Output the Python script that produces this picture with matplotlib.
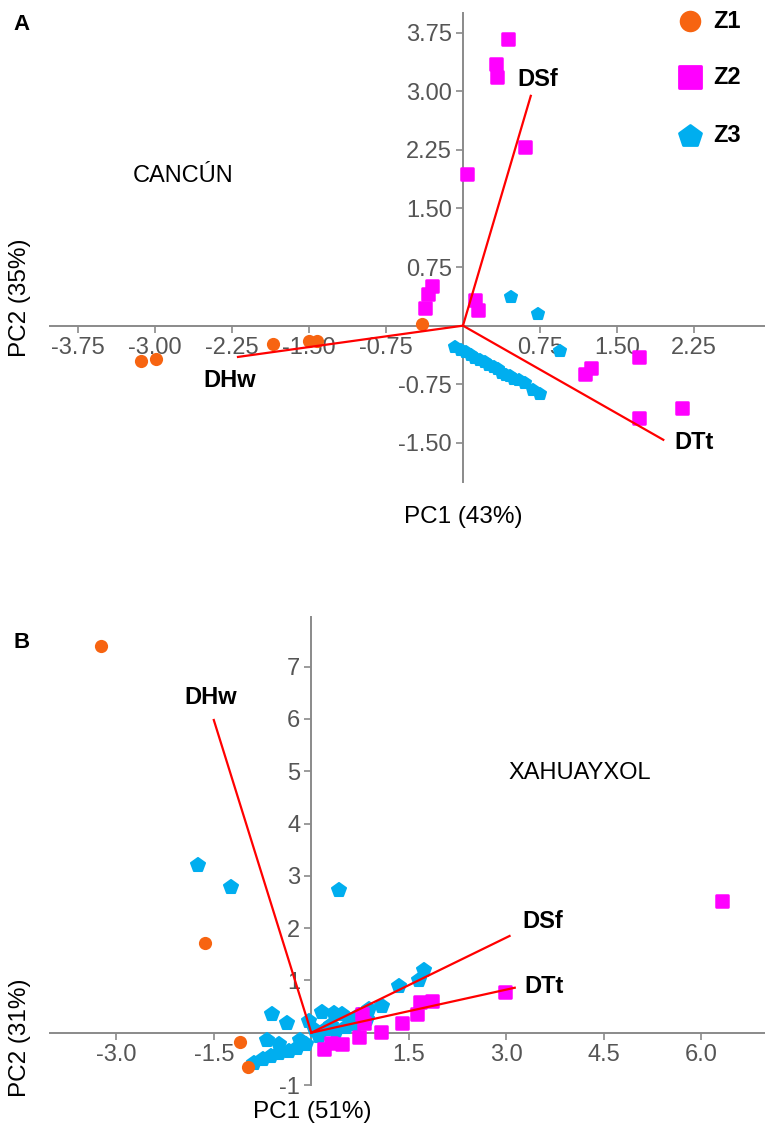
# PCA biplots, Cancun (A) and Xahuayxol (B)
import matplotlib
matplotlib.use("Agg")
import matplotlib.pyplot as plt
from matplotlib.markers import MarkerStyle

plt.rcParams['font.family'] = ['Liberation Sans', 'DejaVu Sans']

W, H = 765, 1135

# ---- panel A data (CANCUN) ----
a_z1_x = [-3.13, -2.99, -1.85, -1.50, -1.42, -0.40]
a_z1_y = [-0.45, -0.43, -0.23, -0.20, -0.20, 0.02]
a_z2_x = [0.44, 0.32, 0.33, 0.60, 0.04, -0.30, -0.34, -0.37, 0.12, 0.15, 1.71, 1.19, 1.25, 1.71, 2.13]
a_z2_y = [3.67, 3.35, 3.18, 2.28, 1.94, 0.51, 0.41, 0.22, 0.33, 0.20, -0.40, -0.62, -0.54, -1.18, -1.05]
a_z3_x = [0.47, 0.73, 0.94, -0.08, -0.02, 0.03, 0.08, 0.12, 0.17, 0.21, 0.25, 0.30,
          0.34, 0.38, 0.42, 0.46, 0.50, 0.55, 0.60, 0.68, 0.75]
a_z3_y = [0.37, 0.15, -0.33, -0.27, -0.31, -0.34, -0.38, -0.41, -0.44, -0.47, -0.50, -0.53,
          -0.56, -0.60, -0.63, -0.65, -0.68, -0.70, -0.73, -0.82, -0.87]
a_vars = ['DSf', 'DTt', 'DHw']
a_load_x = [0.66, 1.95, -2.19]
a_load_y = [2.94, -1.46, -0.40]
a_lab_x = [0.53, 2.06, -2.53]
a_lab_y = [3.15, -1.50, -0.70]
a_xticks = [-3.75, -3.00, -2.25, -1.50, -0.75, 0.75, 1.50, 2.25]
a_yticks = [-1.50, -0.75, 0.75, 1.50, 2.25, 3.00, 3.75]

# ---- panel B data (XAHUAYXOL) ----
b_z1_x = [-3.23, -1.63, -1.09, -0.98]
b_z1_y = [7.40, 1.71, -0.17, -0.65]
b_z2_x = [6.32, 2.98, 1.68, 1.86, 1.63, 1.40, 1.07, 0.78, 0.74, 0.48, 0.20, 0.31, 0.81]
b_z2_y = [2.52, 0.77, 0.58, 0.61, 0.36, 0.19, 0.02, 0.36, -0.09, -0.21, -0.31, -0.19, 0.19]
b_z3_x = [-1.74, -1.23, 0.43, -0.60, -0.37, -0.03, 0.17, 0.35, 0.48, 0.89, 1.09, 1.35, 1.66, 1.74,
          -0.68, -0.49, -0.18, -0.88, -0.75, -0.62, -0.49, -0.34, -0.22, -0.08,
          0.12, 0.23, 0.38, 0.54, 0.69, 0.85, 0.74, 0.05, 0.30, 0.60]
b_z3_y = [3.21, 2.79, 2.73, 0.35, 0.19, 0.23, 0.40, 0.37, 0.35, 0.46, 0.52, 0.90, 1.00, 1.19,
          -0.13, -0.21, -0.13, -0.58, -0.50, -0.44, -0.38, -0.35, -0.29, -0.21,
          -0.06, 0.08, 0.04, 0.10, 0.17, 0.27, 0.33, 0.05, 0.15, 0.25]
b_vars = ['DHw', 'DSf', 'DTt']
b_load_x = [-1.50, 3.05, 3.13]
b_load_y = [5.98, 1.85, 0.86]
b_lab_x = [-1.95, 3.25, 3.28]
b_lab_y = [6.42, 2.12, 0.88]
b_xticks = [-3.0, -1.5, 1.5, 3.0, 4.5, 6.0]
b_yticks = [-1, 1, 2, 3, 4, 5, 6, 7]

c_z1 = '#F76411'
c_z2 = '#FF00FF'
c_z3 = '#00AEEF'
axis_c = '#8a8a8a'


def sq():
    return MarkerStyle('s', joinstyle='round')


def pent():
    return MarkerStyle('p', joinstyle='round')


def setup(ax, xlim, ylim, xt, yt, fmt):
    for s in ['top', 'right']:
        ax.spines[s].set_visible(False)
    for s in ['left', 'bottom']:
        ax.spines[s].set_position(('data', 0))
        ax.spines[s].set_color(axis_c)
        ax.spines[s].set_linewidth(1.4)
    ax.set_xlim(xlim)
    ax.set_ylim(ylim)
    ax.set_xticks(xt)
    ax.set_yticks(yt)
    ax.set_xticklabels([fmt.format(v) for v in xt])
    ax.set_yticklabels([fmt.format(v) for v in yt])
    ax.tick_params(length=5, width=1.2, color=axis_c, labelcolor='#555555',
                   labelsize=17, pad=3)


def draw(ax, z1, z2, z3, lx, ly, names, tx, ty, pms):
    ax.plot(z3[0], z3[1], ls='none', marker=pent(), ms=pms, mfc=c_z3, mec=c_z3, mew=1.5, zorder=3)
    ax.plot(z2[0], z2[1], ls='none', marker=sq(), ms=8, mfc=c_z2, mec=c_z2, mew=1.8, zorder=3)
    ax.plot(z1[0], z1[1], ls='none', marker='o', ms=9.5, mfc=c_z1, mec=c_z1, mew=0, zorder=4)
    for x, y, n, a, b in zip(lx, ly, names, tx, ty):
        ax.plot([0, x], [0, y], color='#FF0000', lw=1.6, zorder=5)
        ax.text(a, b, n, fontsize=17, fontweight='bold', ha='left', va='center')


fig = plt.figure(figsize=(W / 100, H / 100), dpi=100)

# panel A
axA = fig.add_axes([50 / W, 1 - 482 / H, 715 / W, 469 / H])
setup(axA, (-4.02, 2.94), (-2.0, 4.0), a_xticks, a_yticks, '{:.2f}')
draw(axA, (a_z1_x, a_z1_y), (a_z2_x, a_z2_y), (a_z3_x, a_z3_y),
     a_load_x, a_load_y, a_vars, a_lab_x, a_lab_y, 9)
axA.text(-2.72, 1.91, 'CANCÚN', fontsize=17, ha='center', va='center')

# panel B
axB = fig.add_axes([50 / W, 1 - 1085 / H, 715 / W, 468 / H])
setup(axB, (-4.02, 6.98), (-1.0, 7.95), b_xticks, b_yticks, '{:.1f}')
axB.set_yticklabels([str(v) for v in b_yticks])
draw(axB, (b_z1_x, b_z1_y), (b_z2_x, b_z2_y), (b_z3_x, b_z3_y),
     b_load_x, b_load_y, b_vars, b_lab_x, b_lab_y, 10.5)
axB.text(4.13, 4.97, 'XAHUAYXOL', fontsize=17, ha='center', va='center')

# axis titles and panel letters
fig.text(463 / W, 1 - 517 / H, 'PC1 (43%)', fontsize=17.5, ha='center', va='center')
fig.text(20 / W, 1 - 298 / H, 'PC2 (35%)', fontsize=17.5, ha='center', va='center', rotation=90)
fig.text(312 / W, 1 - 1112 / H, 'PC1 (51%)', fontsize=17.5, ha='center', va='center')
fig.text(20 / W, 1 - 1038 / H, 'PC2 (31%)', fontsize=17.5, ha='center', va='center', rotation=90)
fig.text(22 / W, 1 - 25 / H, 'A', fontsize=16, fontweight='bold', ha='center', va='center')
fig.text(22 / W, 1 - 643 / H, 'B', fontsize=16, fontweight='bold', ha='center', va='center')

# legend
leg = [('Z1', 'o', c_z1, 21, 0), ('Z2', sq(), c_z2, 77, 2), ('Z3', pent(), c_z3, 136, 2)]
for name, m, c, ypx, ew in leg:
    axA.plot([690 / W], [1 - ypx / H], transform=fig.transFigure, ls='none', marker=m,
             ms=15.5 if name != 'Z3' else 16, mfc=c, mec=c, mew=ew, clip_on=False)
    fig.text(713 / W, 1 - ypx / H, name, fontsize=17, fontweight='bold', ha='left', va='center')

fig.savefig('out.png', dpi=100)
